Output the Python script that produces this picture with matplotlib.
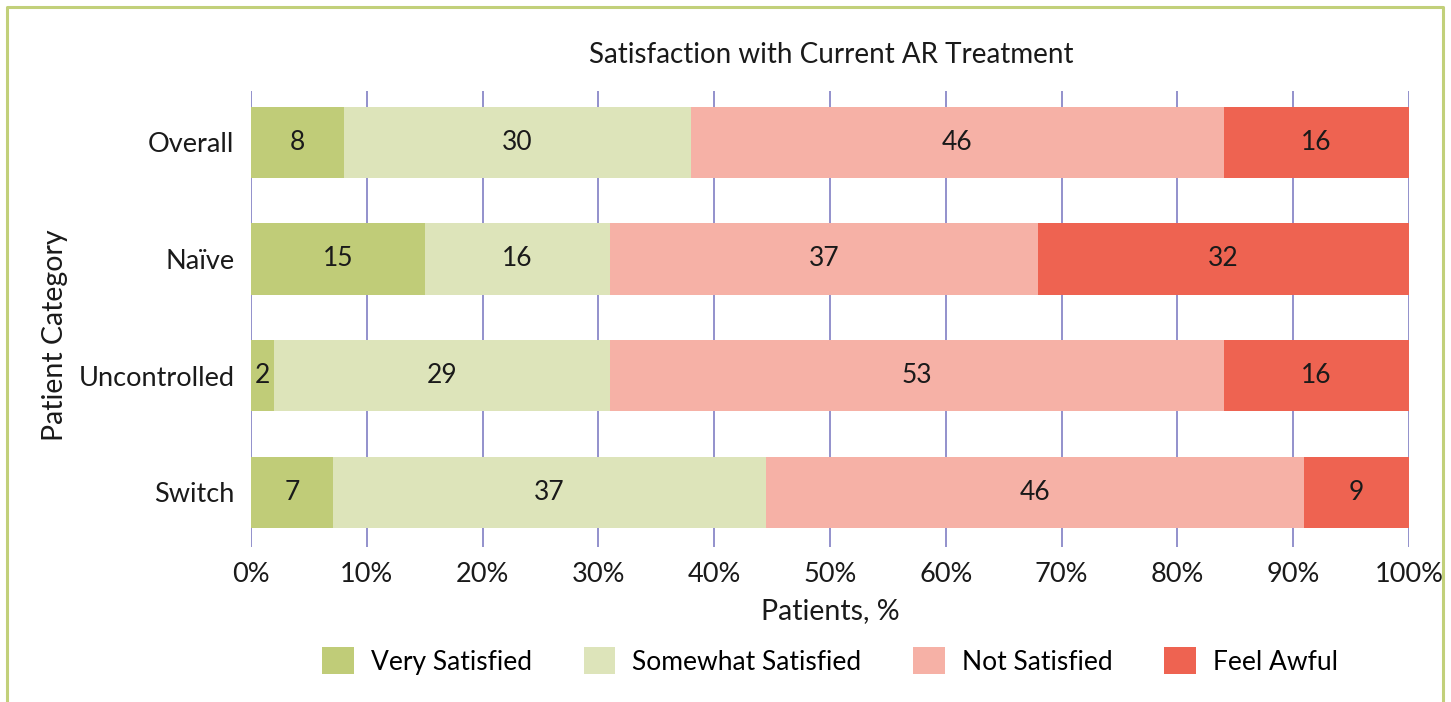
import numpy as np
import matplotlib.pyplot as plt
from matplotlib.lines import Line2D
from matplotlib.patches import Patch

plt.rcParams['font.family'] = ['Lato', 'DejaVu Sans']

# Datos
categorias = ['Overall', 'Naïve', 'Uncontrolled', 'Switch']
series = ['Very Satisfied', 'Somewhat Satisfied', 'Not Satisfied', 'Feel Awful']
very_satisfied = [8, 15, 2, 7]
somewhat_satisfied = [30, 16, 29, 37]
not_satisfied = [46, 37, 53, 46]
feel_awful = [16, 32, 16, 9]
colores = ['#C0CC78', '#DDE4BA', '#F6B1A6', '#EE6351']

valores = np.array([very_satisfied, somewhat_satisfied, not_satisfied, feel_awful], dtype=float)
porcentajes = valores / valores.sum(axis=0) * 100  # normalizar a 100%

fig = plt.figure(figsize=(14.51, 7.02), dpi=100)
ax = fig.add_axes([251 / 1451, 1 - 547 / 702, 1158 / 1451, 456 / 702])

y = np.arange(len(categorias))
izquierda = np.zeros(len(categorias))
for i, nombre in enumerate(series):
    ax.barh(y, porcentajes[i], left=izquierda, height=0.61, color=colores[i],
            label=nombre, zorder=2)
    for j in range(len(categorias)):
        ax.text(izquierda[j] + porcentajes[i][j] / 2, y[j], str(int(valores[i][j])),
                ha='center', va='center', fontsize=19, color='#1a1a1a', zorder=3)
    izquierda += porcentajes[i]

ax.set_xlim(0, 100)
ax.set_ylim(3.47, -0.44)
ax.set_xticks(np.arange(0, 101, 10))
ax.set_xticklabels([f'{v}%' for v in range(0, 101, 10)])
ax.set_yticks(y)
ax.set_yticklabels(categorias)
ax.tick_params(axis='both', length=0, labelsize=19.5, colors='#1a1a1a')
ax.tick_params(axis='x', pad=11)
ax.tick_params(axis='y', pad=12)
ax.grid(axis='x', color='#8A88C8', linewidth=1.3, zorder=0)
for s in ax.spines.values():
    s.set_visible(False)

fig.text(831 / 1451, 1 - 55 / 702, 'Satisfaction with Current AR Treatment',
         fontsize=20, ha='center', va='center', color='#1a1a1a')
ax.set_xlabel('Patients, %', fontsize=20.5, labelpad=8, color='#1a1a1a')
fig.text(55 / 1451, 1 - 335 / 702, 'Patient Category', rotation=90, fontsize=20.5,
         ha='center', va='center', color='#1a1a1a')

handles = [Patch(facecolor=c, edgecolor='none') for c in colores]
fig.legend(handles, series, loc='center', bbox_to_anchor=(830 / 1451, 1 - 661 / 702),
           ncol=4, frameon=False, fontsize=19, handlelength=1.2, handleheight=1.2,
           columnspacing=1.95, handletextpad=0.65)

# Borde verde
borde = '#C2D07A'
fig.add_artist(Line2D([7 / 1451, 7 / 1451, 1443 / 1451, 1443 / 1451],
                      [0, 1 - 7 / 702, 1 - 7 / 702, 0],
                      transform=fig.transFigure, color=borde, linewidth=2.2))

fig.savefig('out.png', dpi=100)
